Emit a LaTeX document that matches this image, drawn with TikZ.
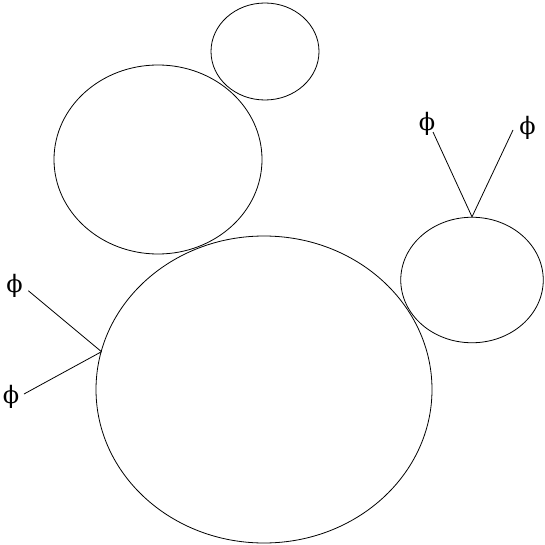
\documentclass[tikz,border=0pt]{standalone}
\usepackage{fontspec}
\newfontfamily\phifont{DejaVu Serif}
\usetikzlibrary{shapes.geometric}
\begin{document}
\begin{tikzpicture}[x=1pt,y=-1pt,
  blob/.style={draw,ellipse,inner sep=0pt,line width=0.8pt},
  lbl/.style={inner sep=0pt,font=\phifont\fontsize{24}{24}\selectfont},
  conn/.style={line width=0.8pt}]
\useasboundingbox (0,0) rectangle (545,545);
\node[blob,minimum width=108pt,minimum height=97pt] (top) at (265,51.5) {};
\node[blob,minimum width=208pt,minimum height=189pt] (mid) at (158,159.5) {};
\node[blob,minimum width=336pt,minimum height=307pt] (big) at (264,389.5) {};
\node[blob,minimum width=142.5pt,minimum height=125.5pt] (rgt) at (472,280) {};
\node[lbl] (pA) at (14.5,286) {ϕ};
\node[lbl] (pB) at (11,397) {ϕ};
\node[lbl] (pC) at (427,124) {ϕ};
\node[lbl] (pD) at (527.5,128) {ϕ};
\coordinate (jL) at (101.5,351.7);
\coordinate (eA) at (28.3,290.7);
\coordinate (eB) at (24,394);
\coordinate (eC) at (433,132);
\coordinate (eD) at (513,130);
\draw[conn] (eA) -- (jL);
\draw[conn] (eB) -- (jL);
\draw[conn] (eC) -- (rgt.north);
\draw[conn] (eD) -- (rgt.north);
\end{tikzpicture}
\end{document}
